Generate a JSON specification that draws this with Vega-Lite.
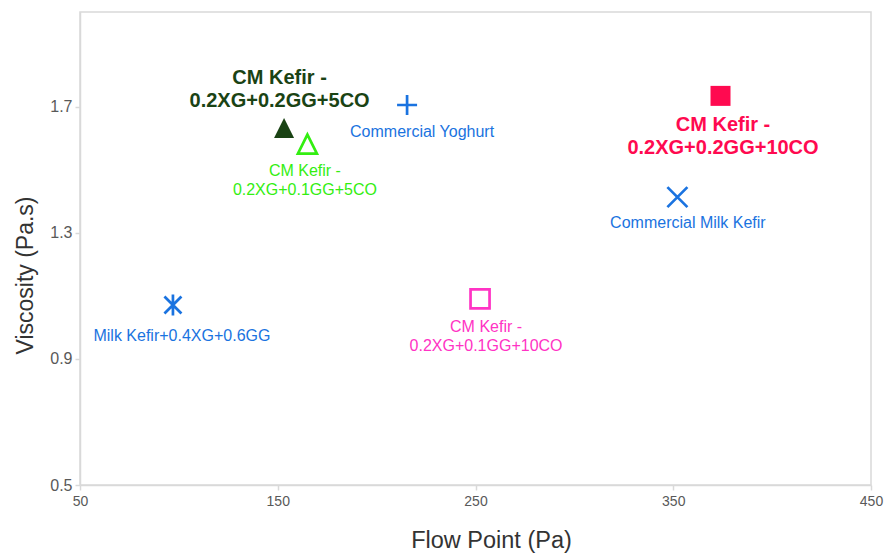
{
  "$schema": "https://vega.github.io/schema/vega-lite/v6.json",
  "autosize": {"type": "none"},
  "padding": {"left": 80, "top": 12, "right": 16, "bottom": 68},
  "width": 791,
  "height": 473,
  "background": "white",
  "config": {
    "view": {"stroke": "#d9d9d9", "strokeWidth": 1.5},
    "font": "Liberation Sans",
    "text": {"font": "Liberation Sans"}
  },
  "data": {
    "values": [
      {"name": "CM Kefir - 0.2XG+0.2GG+5CO", "label": ["CM Kefir -", "0.2XG+0.2GG+5CO"], "flow": 153.2, "visc": 1.632},
      {"name": "CM Kefir - 0.2XG+0.1GG+5CO", "label": ["CM Kefir -", "0.2XG+0.1GG+5CO"], "flow": 165.0, "visc": 1.581},
      {"name": "Commercial Yoghurt", "label": "Commercial Yoghurt", "flow": 215.4, "visc": 1.705},
      {"name": "CM Kefir - 0.2XG+0.2GG+10CO", "label": ["CM Kefir -", "0.2XG+0.2GG+10CO"], "flow": 373.9, "visc": 1.734},
      {"name": "Commercial Milk Kefir", "label": "Commercial Milk Kefir", "flow": 352.1, "visc": 1.413},
      {"name": "Milk Kefir+0.4XG+0.6GG", "label": "Milk Kefir+0.4XG+0.6GG", "flow": 97.0, "visc": 1.071},
      {"name": "CM Kefir - 0.2XG+0.1GG+10CO", "label": ["CM Kefir -", "0.2XG+0.1GG+10CO"], "flow": 252.3, "visc": 1.09}
    ]
  },
  "encoding": {
    "x": {
      "field": "flow", "type": "quantitative",
      "scale": {"domain": [50, 450], "nice": false, "zero": false},
      "axis": {
        "values": [50, 150, 250, 350, 450],
        "grid": false,
        "domainColor": "#d9d9d9", "domainWidth": 1.5,
        "tickColor": "#d9d9d9", "tickSize": 5, "tickWidth": 1.5,
        "labelFontSize": 14, "labelColor": "#595959", "labelPadding": 4, "labelFlush": false,
        "title": "Flow Point (Pa)",
        "titleFontSize": 23.5, "titleFontWeight": "normal", "titleColor": "#333333",
        "titleX": 411, "titleY": 55, "titleBaseline": "middle", "titleAlign": "center"
      }
    },
    "y": {
      "field": "visc", "type": "quantitative",
      "scale": {"domain": [0.5, 2.0], "nice": false, "zero": false},
      "axis": {
        "values": [0.5, 0.9, 1.3, 1.7],
        "format": ".1f",
        "grid": false,
        "domainColor": "#d9d9d9", "domainWidth": 1.5,
        "tickColor": "#d9d9d9", "tickSize": 5, "tickWidth": 1.5,
        "labelFontSize": 16, "labelColor": "#595959", "labelPadding": 3, "labelFlush": false,
        "title": "Viscosity (Pa.s)",
        "titleFontSize": 23, "titleFontWeight": "normal", "titleColor": "#333333",
        "titleX": -55, "titleY": 263, "titleAngle": -90, "titleBaseline": "middle", "titleAlign": "center"
      }
    }
  },
  "layer": [
    {
      "transform": [{"filter": {"field": "name", "oneOf": ["CM Kefir - 0.2XG+0.2GG+5CO", "CM Kefir - 0.2XG+0.2GG+10CO"]}}],
      "mark": {"type": "point", "filled": true, "size": 400, "strokeWidth": 0, "opacity": 1},
      "encoding": {
        "color": {"field": "name", "type": "nominal", "legend": null,
          "scale": {
            "domain": ["CM Kefir - 0.2XG+0.2GG+5CO", "CM Kefir - 0.2XG+0.1GG+5CO", "Commercial Yoghurt", "CM Kefir - 0.2XG+0.2GG+10CO", "Commercial Milk Kefir", "Milk Kefir+0.4XG+0.6GG", "CM Kefir - 0.2XG+0.1GG+10CO"],
            "range": ["#1a4314", "#33ee11", "#1a73e0", "#ff0a50", "#1a73e0", "#1a73e0", "#ff33c4"]
          }},
        "shape": {"field": "name", "type": "nominal", "legend": null,
          "scale": {
            "domain": ["CM Kefir - 0.2XG+0.2GG+5CO", "CM Kefir - 0.2XG+0.1GG+5CO", "Commercial Yoghurt", "CM Kefir - 0.2XG+0.2GG+10CO", "Commercial Milk Kefir", "Milk Kefir+0.4XG+0.6GG", "CM Kefir - 0.2XG+0.1GG+10CO"],
            "range": ["M0,-1L1,1L-1,1Z", "M0,-0.95L0.95,0.95L-0.95,0.95Z", "M-1,0L1,0M0,-1L0,1", "M-1,-1L1,-1L1,1L-1,1Z", "M-1,-1L1,1M-1,1L1,-1", "M-0.85,-0.85L0.85,0.85M-0.85,0.85L0.85,-0.85M0,-1.05L0,1.05", "M-0.95,-0.95L0.95,-0.95L0.95,0.95L-0.95,0.95Z"]
          }}
      }
    },
    {
      "transform": [{"filter": {"not": {"field": "name", "oneOf": ["CM Kefir - 0.2XG+0.2GG+5CO", "CM Kefir - 0.2XG+0.2GG+10CO"]}}}],
      "mark": {"type": "point", "filled": false, "size": 400, "strokeWidth": 2.7, "opacity": 1},
      "encoding": {
        "color": {"field": "name", "type": "nominal", "legend": null},
        "shape": {"field": "name", "type": "nominal", "legend": null}
      }
    },
    {
      "transform": [{"filter": {"field": "name", "equal": "CM Kefir - 0.2XG+0.2GG+5CO"}}],
      "mark": {"type": "text", "fontSize": 20, "fontWeight": "bold", "align": "center", "baseline": "middle", "lineHeight": 23, "dx": -4.5, "dy": -50},
      "encoding": {"text": {"field": "label"}, "color": {"field": "name", "type": "nominal", "legend": null}}
    },
    {
      "transform": [{"filter": {"field": "name", "equal": "CM Kefir - 0.2XG+0.1GG+5CO"}}],
      "mark": {"type": "text", "fontSize": 16, "align": "center", "baseline": "middle", "lineHeight": 19, "dx": -2.5, "dy": 26.5},
      "encoding": {"text": {"field": "label"}, "color": {"field": "name", "type": "nominal", "legend": null}}
    },
    {
      "transform": [{"filter": {"field": "name", "equal": "Commercial Yoghurt"}}],
      "mark": {"type": "text", "fontSize": 16, "align": "center", "baseline": "middle", "dx": 15, "dy": 26.5},
      "encoding": {"text": {"field": "label"}, "color": {"field": "name", "type": "nominal", "legend": null}}
    },
    {
      "transform": [{"filter": {"field": "name", "equal": "CM Kefir - 0.2XG+0.2GG+10CO"}}],
      "mark": {"type": "text", "fontSize": 20, "fontWeight": "bold", "align": "center", "baseline": "middle", "lineHeight": 23, "dx": 2.5, "dy": 29},
      "encoding": {"text": {"field": "label"}, "color": {"field": "name", "type": "nominal", "legend": null}}
    },
    {
      "transform": [{"filter": {"field": "name", "equal": "Commercial Milk Kefir"}}],
      "mark": {"type": "text", "fontSize": 16, "align": "center", "baseline": "middle", "dx": 10.5, "dy": 25.5},
      "encoding": {"text": {"field": "label"}, "color": {"field": "name", "type": "nominal", "legend": null}}
    },
    {
      "transform": [{"filter": {"field": "name", "equal": "Milk Kefir+0.4XG+0.6GG"}}],
      "mark": {"type": "text", "fontSize": 16, "align": "center", "baseline": "middle", "dx": 9, "dy": 31.5},
      "encoding": {"text": {"field": "label"}, "color": {"field": "name", "type": "nominal", "legend": null}}
    },
    {
      "transform": [{"filter": {"field": "name", "equal": "CM Kefir - 0.2XG+0.1GG+10CO"}}],
      "mark": {"type": "text", "fontSize": 16, "align": "center", "baseline": "middle", "lineHeight": 19, "dx": 6, "dy": 28.5},
      "encoding": {"text": {"field": "label"}, "color": {"field": "name", "type": "nominal", "legend": null}}
    }
  ]
}
